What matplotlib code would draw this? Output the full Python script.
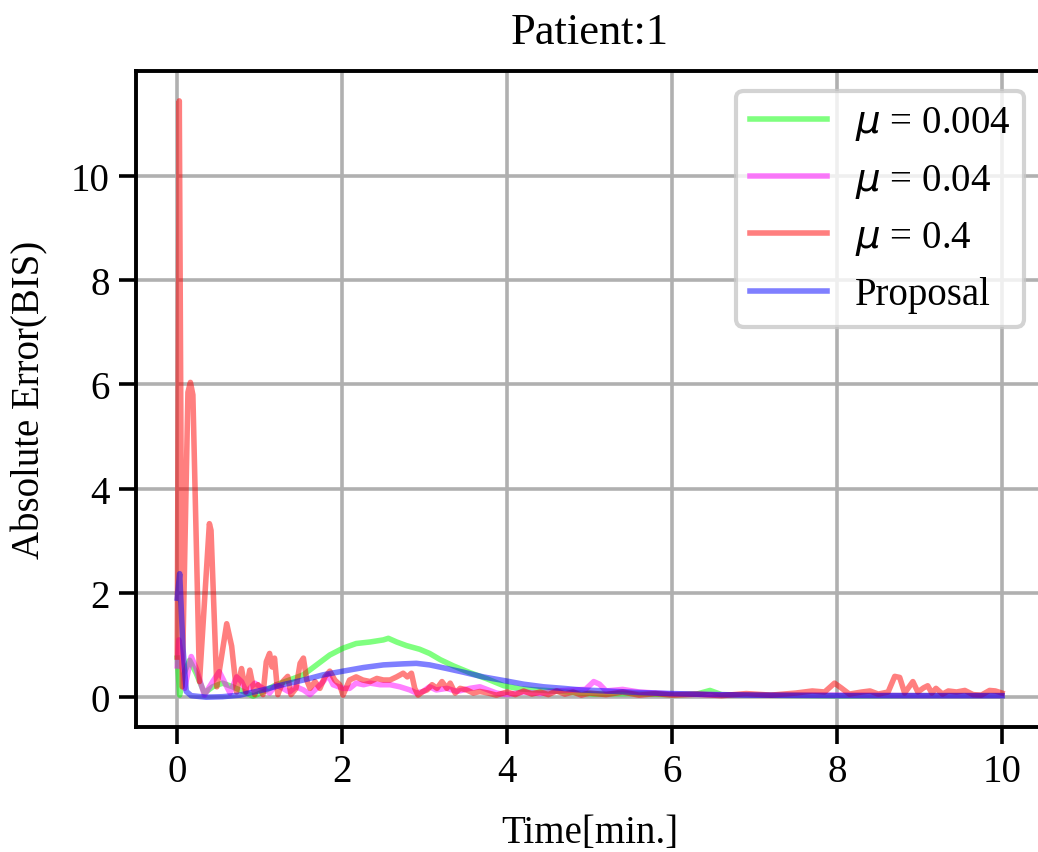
import numpy as np
import matplotlib
matplotlib.use("Agg")
import matplotlib.pyplot as plt

# ---- data (time in min, absolute BIS error) ----
t_green = [0, 0.03, 0.08, 0.15, 0.23, 0.33, 0.43, 0.55, 0.67, 0.8, 0.92, 1.04,
           1.2, 1.36, 1.53, 1.69, 1.85, 2.01, 2.17, 2.34, 2.5, 2.56, 2.66, 2.78,
           2.94, 3.06, 3.19, 3.35, 3.55, 3.76, 3.96, 4.16, 4.56, 5.05, 5.5, 6.0,
           6.3, 6.46, 6.6, 7.0, 8.0, 9.0, 10.0]
v_green = [0.75, 0.04, 0.45, 0.71, 0.46, 0.08, 0.2, 0.27, 0.2, 0.11, 0.02, 0.1,
           0.24, 0.33, 0.43, 0.62, 0.81, 0.94, 1.03, 1.06, 1.1, 1.13, 1.06, 0.99,
           0.92, 0.84, 0.72, 0.6, 0.47, 0.35, 0.22, 0.16, 0.12, 0.06, 0.07, 0.05,
           0.06, 0.13, 0.05, 0.04, 0.03, 0.03, 0.03]

t_magenta = [0, 0.02, 0.05, 0.09, 0.17, 0.23, 0.33, 0.43, 0.51, 0.57, 0.64, 0.72,
             0.78, 0.84, 0.94, 1.04, 1.12, 1.2, 1.28, 1.36, 1.44, 1.53, 1.61, 1.69,
             1.77, 1.83, 1.89, 2.01, 2.09, 2.17, 2.26, 2.34, 2.46, 2.58, 2.7, 2.82,
             2.9, 2.98, 3.06, 3.14, 3.27, 3.39, 3.55, 3.67, 3.87, 4.0, 4.2, 4.4,
             4.6, 4.8, 4.95, 5.05, 5.12, 5.2, 5.4, 5.6, 6.0, 6.5, 7.0, 8.0, 9.0, 10.0]
v_magenta = [0.6, 1.1, 0.8, 0.17, 0.78, 0.55, 0.04, 0.3, 0.49, 0.3, 0.08, 0.39,
             0.3, 0.1, 0.27, 0.17, 0.08, 0.24, 0.17, 0.1, 0.2, 0.14, 0.05, 0.17,
             0.3, 0.43, 0.24, 0.17, 0.17, 0.27, 0.24, 0.27, 0.24, 0.24, 0.2, 0.14,
             0.08, 0.11, 0.2, 0.14, 0.17, 0.11, 0.17, 0.2, 0.08, 0.05, 0.1, 0.07,
             0.12, 0.14, 0.15, 0.3, 0.25, 0.12, 0.15, 0.1, 0.06, 0.05, 0.04, 0.04, 0.03, 0.03]

t_red = [0, 0.025, 0.06, 0.13, 0.16, 0.19, 0.27, 0.39, 0.41, 0.48, 0.6, 0.66,
         0.72, 0.78, 0.83, 0.88, 0.94, 0.98, 1.04, 1.08, 1.12, 1.15, 1.18, 1.22,
         1.28, 1.34, 1.38, 1.44, 1.49, 1.53, 1.57, 1.61, 1.67, 1.73, 1.79, 1.85,
         1.91, 1.97, 2.01, 2.09, 2.17, 2.25, 2.34, 2.42, 2.5, 2.58, 2.66, 2.74,
         2.79, 2.84, 2.88, 2.92, 2.98, 3.03, 3.09, 3.15, 3.21, 3.27, 3.31, 3.37,
         3.43, 3.51, 3.59, 3.67, 3.77, 3.87, 4.0, 4.1, 4.2, 4.3, 4.4, 4.5, 4.6,
         4.7, 4.8, 4.9, 5.0, 5.2, 5.4, 5.6, 5.8, 6.0, 6.3, 6.6, 6.9, 7.2, 7.5,
         7.7, 7.85, 7.97, 8.05, 8.15, 8.3, 8.4, 8.5, 8.62, 8.7, 8.76, 8.82, 8.92,
         8.98, 9.05, 9.1, 9.15, 9.2, 9.28, 9.35, 9.45, 9.55, 9.65, 9.75, 9.85,
         9.92, 10.0]
v_red = [0.77, 11.44, 0.2, 5.85, 6.04, 5.8, 0.3, 3.33, 3.2, 0.2, 1.41, 0.98,
         0.1, 0.55, 0.1, 0.52, 0.05, 0.24, 0.05, 0.68, 0.84, 0.58, 0.75, 0.05,
         0.3, 0.4, 0.05, 0.17, 0.65, 0.75, 0.33, 0.17, 0.3, 0.17, 0.39, 0.5,
         0.33, 0.24, 0.04, 0.33, 0.39, 0.33, 0.3, 0.36, 0.33, 0.33, 0.39, 0.46,
         0.39, 0.46, 0.17, 0.04, 0.11, 0.14, 0.24, 0.17, 0.3, 0.17, 0.27, 0.08,
         0.17, 0.14, 0.08, 0.11, 0.08, 0.04, 0.1, 0.05, 0.12, 0.06, 0.1, 0.05, 0.12,
         0.06, 0.1, 0.04, 0.08, 0.05, 0.1, 0.04, 0.07, 0.04, 0.06, 0.03, 0.07, 0.04, 0.08,
         0.12, 0.1, 0.27, 0.18, 0.06, 0.1, 0.12, 0.06, 0.1, 0.4, 0.38, 0.08, 0.3,
         0.1, 0.18, 0.22, 0.08, 0.17, 0.06, 0.12, 0.1, 0.13, 0.05, 0.04, 0.13,
         0.12, 0.08]

t_blue = [0, 0.03, 0.07, 0.11, 0.17, 0.35, 0.55, 0.76, 1.04, 1.28, 1.53, 1.77,
          2.01, 2.26, 2.5, 2.74, 2.9, 3.06, 3.27, 3.47, 3.71, 3.96, 4.2, 4.44,
          4.68, 4.89, 5.2, 5.6, 6.0, 6.5, 7.0, 8.0, 9.0, 10.0]
v_blue = [1.9, 2.37, 0.94, 0.11, 0.03, 0.0, 0.01, 0.04, 0.14, 0.24, 0.33, 0.43,
          0.5, 0.57, 0.62, 0.64, 0.65, 0.62, 0.55, 0.48, 0.39, 0.32, 0.25, 0.2,
          0.17, 0.14, 0.12, 0.09, 0.07, 0.05, 0.04, 0.03, 0.03, 0.03]

labels = [r"$\mu$ = 0.004", r"$\mu$ = 0.04", r"$\mu$ = 0.4", "Proposal"]
colors = ["lime", "magenta", "red", "blue"]

plt.rcParams["font.family"] = ["Liberation Serif", "DejaVu Serif"]
plt.rcParams["mathtext.fontset"] = "custom"
plt.rcParams["mathtext.rm"] = "Liberation Serif"
plt.rcParams["mathtext.it"] = "DejaVu Sans:italic"

fig = plt.figure(figsize=(5.19, 4.265), dpi=200)
ax = fig.add_axes([0.131, 0.1465, 0.874, 0.769])

series = [(t_green, v_green), (t_magenta, v_magenta), (t_red, v_red), (t_blue, v_blue)]
for (t, v), c, lab in zip(series, colors, labels):
    ax.plot(t, v, color=c, alpha=0.5, lw=2.0, label=lab)

ax.set_xticks([0, 2, 4, 6, 8, 10])
ax.set_yticks([0, 2, 4, 6, 8, 10])
ax.tick_params(labelsize=14, width=1.3, length=6)
for s in ax.spines.values():
    s.set_linewidth(1.4)
ax.spines["right"].set_visible(False)
ax.grid(True, color="#b0b0b0", lw=1.3)
ax.set_xlabel("Time[min.]", fontsize=14, labelpad=8.5)
ax.set_ylabel("Absolute Error(BIS)", fontsize=14, labelpad=8)
ax.set_title("Patient:1", fontsize=16, pad=10)
leg = ax.legend(loc="upper right", fontsize=14, handletextpad=0.7, borderpad=0.35)
leg.get_frame().set_linewidth(1.5)
leg.get_frame().set_edgecolor("#c8c8c8")

fig.savefig("out.png", dpi=200)
